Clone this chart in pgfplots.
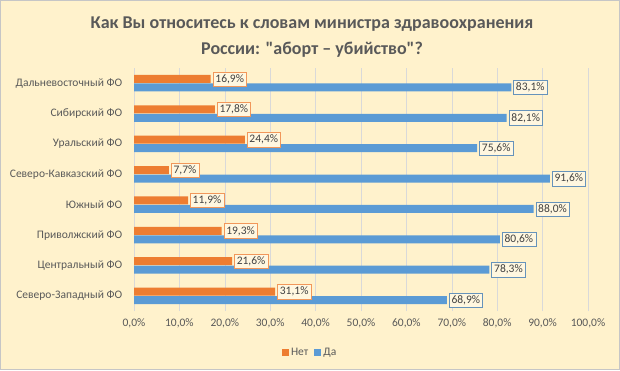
\documentclass[border=0pt]{standalone}
\usepackage{pgfplots}
\pgfplotsset{compat=1.18}
\usepackage{fontspec}
\setmainfont{Carlito}
\newfontfamily\qfont{Carlito}
\definecolor{bg}{HTML}{FFF2CC}
\definecolor{cOr}{HTML}{ED7D31}
\definecolor{cBl}{HTML}{5B9BD5}
\definecolor{txt}{HTML}{595959}
\definecolor{dtxt}{HTML}{404040}
\definecolor{grd}{HTML}{D9D9D9}
\begin{document}
\begin{tikzpicture}[x=1pt,y=1pt]
\fill[bg] (0,0) rectangle (620,370);
\draw[gray!45,line width=0.8pt] (0.5,0.5) rectangle (619.5,369.5);
\node[align=center,font=\fontsize{18}{26}\selectfont\bfseries,text=txt] at (312,333)
  {Как Вы относитесь к словам министра здравоохранения\\России: {\qfont\bfseries"}аборт – убийство{\qfont\bfseries"}?};
\begin{axis}[
  at={(134pt,59pt)}, anchor=south west,
  width=454pt, height=243pt, scale only axis,
  xmin=0, xmax=100, ymin=-0.5, ymax=7.5,
  axis line style={draw=none},
  xbar, bar width=0.26,
  xtick={0,10,...,100},
  xticklabels={{0,0\%},{10,0\%},{20,0\%},{30,0\%},{40,0\%},{50,0\%},{60,0\%},{70,0\%},{80,0\%},{90,0\%},{100,0\%}},
  ytick={0,...,7},
  yticklabels={Северо-Западный ФО,Центральный ФО,Приволжский ФО,Южный ФО,Северо-Кавказский ФО,Уральский ФО,Сибирский ФО,Дальневосточный ФО},
  tick style={draw=none},
  xmajorgrids, major grid style={grd, line width=0.6pt},
  ticklabel style={font=\fontsize{11.5}{13}\selectfont, text=txt},
  xticklabel style={yshift=-4pt},
  yticklabel style={xshift=-4pt},
  /pgf/number format/assume math mode=true,
  nodes near coords={\pgfmathprintnumber[fixed,fixed zerofill,precision=1,use comma]{\pgfplotspointmeta}\%},
  every node near coord/.append style={font=\fontsize{11.5}{13}\selectfont, text=dtxt, fill=bg!60!white, inner sep=2.5pt, anchor=west, xshift=2pt},
  legend style={at={(0.388,-0.169)}, anchor=center, draw=none, fill=none, legend columns=2,
    font=\fontsize{11.5}{13}\selectfont, text=txt, /tikz/every even column/.append style={column sep=4pt}},
  legend image code/.code={\fill[#1,draw=none] (0pt,-3.5pt) rectangle (7pt,3.5pt);},
  clip=false,
]
\addplot[draw=none, fill=cOr, bar shift=0.14, every node near coord/.append style={draw=cOr!80!white}]
  coordinates {(31.1,0) (21.6,1) (19.3,2) (11.9,3) (7.7,4) (24.4,5) (17.8,6) (16.9,7)};
\addlegendentry{Нет}
\addplot[draw=none, fill=cBl, bar shift=-0.14, every node near coord/.append style={draw=cBl!70!gray}]
  coordinates {(68.9,0) (78.3,1) (80.6,2) (88.0,3) (91.6,4) (75.6,5) (82.1,6) (83.1,7)};
\addlegendentry{Да}
\end{axis}
\pgfresetboundingbox
\path (0,0) rectangle (620,370);
\end{tikzpicture}
\end{document}
